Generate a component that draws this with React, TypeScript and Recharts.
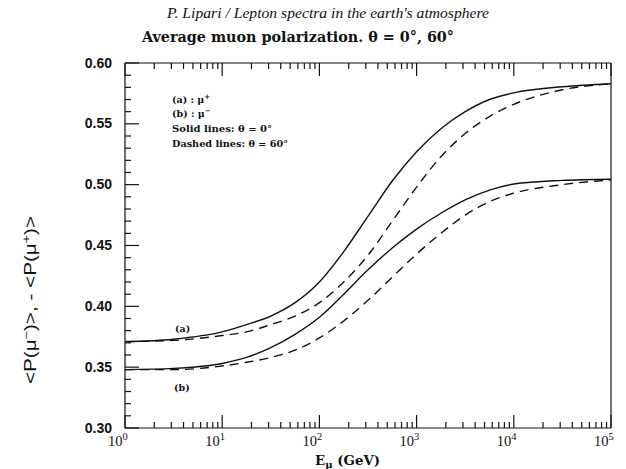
import React from 'react';
import { LineChart, Line, XAxis, YAxis } from 'recharts';

// muon energy (GeV) at which the curves were read
const energy = [1, 3.16, 10, 17.8, 31.6, 56.2, 100, 178, 316, 562, 1000, 1778, 3162, 5623, 10000, 31623, 100000];
// (a) mu+, theta = 0 (solid) and 60 deg (dashed)
const muPlus0 = [0.371, 0.373, 0.379, 0.385, 0.392, 0.403, 0.42, 0.445, 0.474, 0.503, 0.527, 0.546, 0.56, 0.57, 0.5755, 0.5805, 0.583];
const muPlus60 = [0.371, 0.372, 0.376, 0.379, 0.385, 0.392, 0.403, 0.42, 0.442, 0.47, 0.498, 0.523, 0.542, 0.556, 0.566, 0.578, 0.583];
// (b) mu-, theta = 0 (solid) and 60 deg (dashed)
const muMinus0 = [0.348, 0.349, 0.353, 0.358, 0.366, 0.377, 0.391, 0.41, 0.43, 0.448, 0.4635, 0.4765, 0.4875, 0.4955, 0.5005, 0.5035, 0.5045];
const muMinus60 = [0.348, 0.348, 0.351, 0.354, 0.358, 0.364, 0.374, 0.388, 0.405, 0.424, 0.443, 0.46, 0.475, 0.486, 0.493, 0.5, 0.504];

const xMajor = [1, 10, 100, 1000, 10000, 100000];
const xMinorSteps = [2, 3, 4, 5, 6, 7, 8, 9];
const yMajor = [0.3, 0.35, 0.4, 0.45, 0.5, 0.55, 0.6];
const yMinorSteps = [0.01, 0.02, 0.03, 0.04];

const data = energy.map((e, i) => ({
  e,
  a0: muPlus0[i],
  a60: muPlus60[i],
  b0: muMinus0[i],
  b60: muMinus60[i],
}));

const xTicks: number[] = [];
xMajor.forEach((m, i) => {
  xTicks.push(m);
  if (i < xMajor.length - 1) xMinorSteps.forEach((s) => xTicks.push(m * s));
});
const yTicks: number[] = [];
yMajor.forEach((m, i) => {
  yTicks.push(m);
  if (i < yMajor.length - 1) yMinorSteps.forEach((s) => yTicks.push(Math.round((m + s) * 100) / 100));
});

const isMajorX = (v: number) => xMajor.some((m) => Math.abs(m - v) < m * 1e-9);
const isMajorY = (v: number) => yMajor.some((m) => Math.abs(m - v) < 1e-9);

const INK = '#111';

const BottomTick = (p: any) => {
  const { x, y, payload } = p;
  const major = isMajorX(payload.value);
  return (
    <g>
      <line x1={x} y1={y} x2={x} y2={y - (major ? 13 : 6)} stroke={INK} strokeWidth={1.2} />
      {major && (
        <>
          <text x={x - 2.5} y={y + 18} textAnchor="end" fontFamily="Liberation Serif" fontSize={14.5} fill={INK}>10</text>
          <text x={x - 2.5} y={y + 11.5} textAnchor="start" fontFamily="Liberation Serif" fontSize={10.5} fill={INK}>
            {Math.round(Math.log10(payload.value))}
          </text>
        </>
      )}
    </g>
  );
};

const TopTick = (p: any) => {
  const { x, y, payload } = p;
  const major = isMajorX(payload.value);
  return <line x1={x} y1={y} x2={x} y2={y + (major ? 13 : 6)} stroke={INK} strokeWidth={1.2} />;
};

const LeftTick = (p: any) => {
  const { x, y, payload } = p;
  const major = isMajorY(payload.value);
  return (
    <g>
      <line x1={x} y1={y} x2={x + (major ? 14 : 6)} y2={y} stroke={INK} strokeWidth={1.2} />
      {major && (
        <text x={x - 13} y={y} dy="0.33em" textAnchor="end" fontFamily="Liberation Sans" fontWeight="bold" fontSize={14} fill={INK}>
          {payload.value.toFixed(2)}
        </text>
      )}
    </g>
  );
};

const RightTick = (p: any) => {
  const { x, y, payload } = p;
  const major = isMajorY(payload.value);
  return <line x1={x} y1={y} x2={x - (major ? 14 : 6)} y2={y} stroke={INK} strokeWidth={1.2} />;
};

const noteFont = { fontFamily: 'DejaVu Serif', fontWeight: 'bold' as const, fontSize: 9.5, fill: INK };

export default function App() {
  return (
    <div style={{ position: 'absolute', left: 0, top: 0, width: 626, height: 469, background: '#fff' }}>
      <LineChart width={626} height={469} data={data} margin={{ top: 62, right: 14, bottom: 40, left: 124 }}>
        <XAxis
          dataKey="e"
          type="number"
          scale="log"
          domain={[1, 100000]}
          ticks={xTicks}
          interval={0}
          height={1}
          tickSize={0}
          tickMargin={0}
          tickLine={false}
          tick={BottomTick}
          axisLine={{ stroke: INK, strokeWidth: 1.2 }}
        />
        <XAxis
          xAxisId="top"
          orientation="top"
          dataKey="e"
          type="number"
          scale="log"
          domain={[1, 100000]}
          ticks={xTicks}
          interval={0}
          height={1}
          tickSize={0}
          tickMargin={0}
          tickLine={false}
          tick={TopTick}
          axisLine={{ stroke: INK, strokeWidth: 1.2 }}
        />
        <YAxis
          type="number"
          domain={[0.3, 0.6]}
          ticks={yTicks}
          interval={0}
          width={1}
          tickSize={0}
          tickMargin={0}
          tickLine={false}
          tick={LeftTick}
          axisLine={{ stroke: INK, strokeWidth: 1.2 }}
        />
        <YAxis
          yAxisId="r"
          orientation="right"
          type="number"
          domain={[0.3, 0.6]}
          ticks={yTicks}
          interval={0}
          width={1}
          tickSize={0}
          tickMargin={0}
          tickLine={false}
          tick={RightTick}
          axisLine={{ stroke: INK, strokeWidth: 1.2 }}
        />
        <Line type="monotone" dataKey="a0" stroke={INK} strokeWidth={1.4} dot={false} isAnimationActive={false} />
        <Line type="monotone" dataKey="a60" stroke={INK} strokeWidth={1.4} strokeDasharray="9 6" dot={false} isAnimationActive={false} />
        <Line type="monotone" dataKey="b0" stroke={INK} strokeWidth={1.4} dot={false} isAnimationActive={false} />
        <Line type="monotone" dataKey="b60" stroke={INK} strokeWidth={1.4} strokeDasharray="9 6" dot={false} isAnimationActive={false} />
      </LineChart>
      <svg width={626} height={469} style={{ position: 'absolute', left: 0, top: 0, pointerEvents: 'none' }}>
        <text x={167} y={18} fontFamily="Liberation Serif" fontStyle="italic" fontSize={14} fill={INK} textLength={322} lengthAdjust="spacingAndGlyphs">
          P. Lipari / Lepton spectra in the earth's atmosphere
        </text>
        <text x={142} y={42} fontFamily="DejaVu Serif" fontWeight="bold" fontSize={14} fill={INK} textLength={312} lengthAdjust="spacingAndGlyphs">
          Average muon polarization. θ = 0°, 60°
        </text>
        <text x={172} y={103} {...noteFont}>
          (a) : μ<tspan dy={-4} fontSize={7}>+</tspan>
        </text>
        <text x={172} y={117} {...noteFont}>
          (b) : μ<tspan dy={-4} fontSize={7}>−</tspan>
        </text>
        <text x={172} y={132} {...noteFont} textLength={100} lengthAdjust="spacingAndGlyphs">Solid lines: θ = 0°</text>
        <text x={172} y={147} {...noteFont} textLength={116} lengthAdjust="spacingAndGlyphs">Dashed lines: θ = 60°</text>
        <text x={175} y={332} {...noteFont}>(a)</text>
        <text x={174} y={391} {...noteFont}>(b)</text>
        <text x={315} y={465} fontFamily="DejaVu Serif" fontWeight="bold" fontSize={13} fill={INK} textLength={65} lengthAdjust="spacingAndGlyphs">
          E<tspan dy={3} fontSize={10}>μ</tspan>
          <tspan dy={-3}> (GeV)</tspan>
        </text>
        <text
          transform="translate(36,300) rotate(-90)"
          textAnchor="middle"
          fontFamily="Liberation Sans"
          fontSize={16}
          fill={INK}
          textLength={168}
          lengthAdjust="spacingAndGlyphs"
        >
          {'<P(μ'}
          <tspan dy={-6} fontSize={11}>−</tspan>
          <tspan dy={6}>{')>, - <P(μ'}</tspan>
          <tspan dy={-6} fontSize={11}>+</tspan>
          <tspan dy={6}>{')>'}</tspan>
        </text>
      </svg>
    </div>
  );
}
